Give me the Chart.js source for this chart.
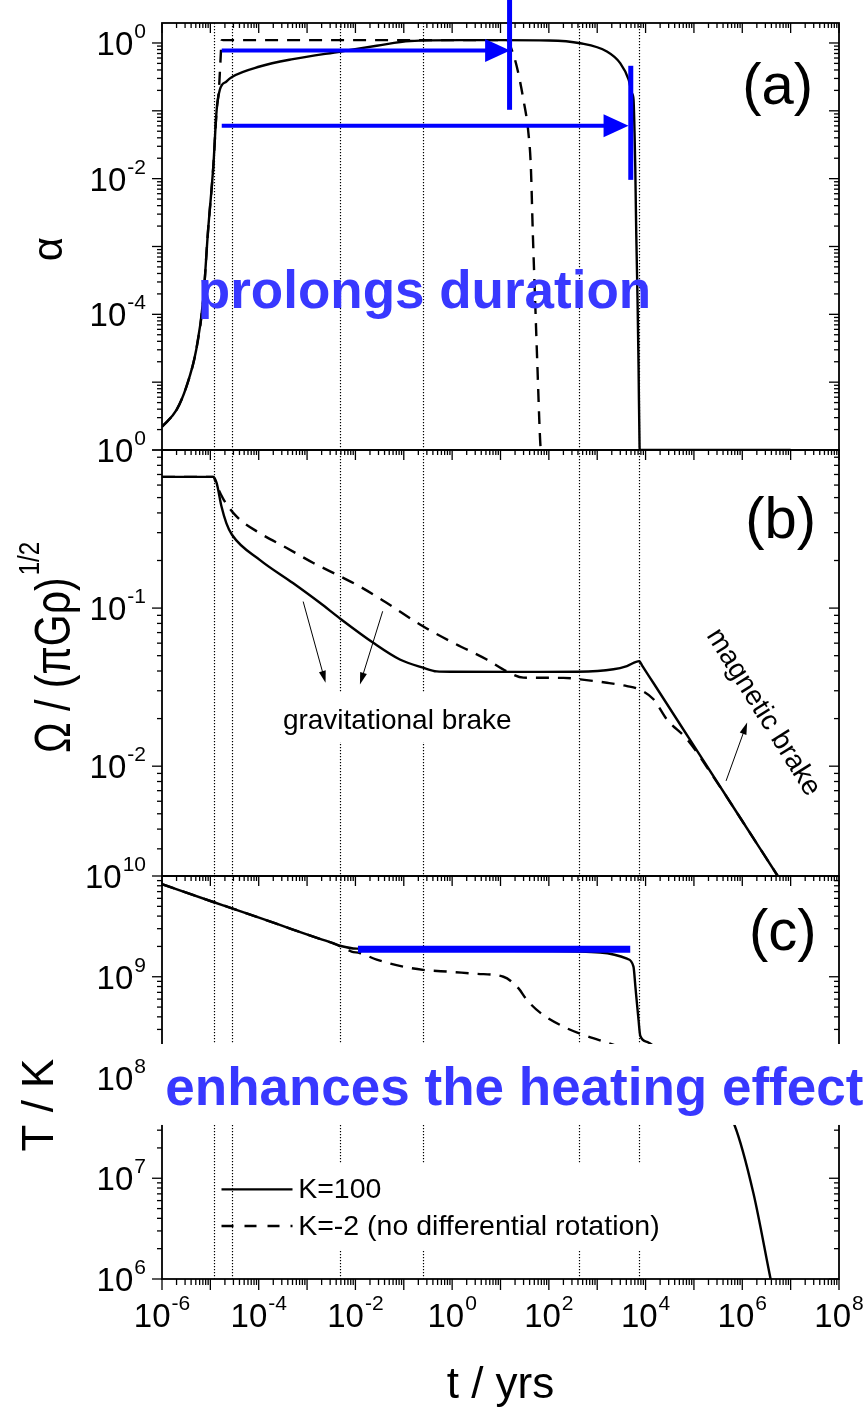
<!DOCTYPE html>
<html>
<head>
<meta charset="utf-8">
<script src="https://cdn.jsdelivr.net/npm/chart.js@4.4.0/dist/chart.umd.min.js"></script>
<style>
  html, body { margin: 0; padding: 0; background: #fff; }
  #wrap { position: relative; width: 867px; height: 1413px; }
  #wrap canvas { position: absolute; left: 0; top: 0; }
</style>
</head>
<body>
<div id="wrap">
  <canvas id="cA" width="867" height="1413"></canvas>
  <canvas id="cB" width="867" height="1413"></canvas>
  <canvas id="cC" width="867" height="1413"></canvas>
</div>
<script>
// ---- data (t in yrs) ----
const xTickExps = [-6, -4, -2, 0, 2, 4, 6, 8];
const markerTimes = [1.2e-5, 2.8e-5, 4.9e-3, 0.25, 425, 7200];   // dotted verticals

// (a) alpha
const alphaTickExps = [0, -2, -4];
const alphaK100 = [[1e-6,2.2e-6],[2.0e-6,3.9e-6],[3.2e-6,8.6e-6],[5.1e-6,3.0e-5],[7.1e-6,1.6e-4],
  [8.9e-6,1.6e-3],[1.15e-5,1.5e-2],[1.35e-5,0.103],[1.57e-5,0.204],[2.14e-5,0.27],[2.8e-5,0.316],
  [1.05e-4,0.45],[5.1e-4,0.578],[5.0e-3,0.75],[2.75e-2,0.91],[0.135,1.07],[1.45,1.1],[10,1.1],
  [100,1.09],[447,0.99],[1585,0.75],[2985,0.505],[4467,0.288],[5224,0.182],[5636,0.146],[5916,0.047],
  [6121,0.0149],[6412,1.6e-3],[6826,1.6e-4],[7161,1.7e-5],[7516,1.1e-6],[7600,1e-6],[1e7,1e-6]];
const alphaK2 = [[1e-6,2.2e-6],[2.0e-6,3.9e-6],[3.2e-6,8.6e-6],[5.1e-6,3.0e-5],[7.1e-6,1.6e-4],
  [8.9e-6,1.6e-3],[1.15e-5,1.5e-2],[1.35e-5,0.103],[1.5e-5,0.2],[1.62e-5,0.55],[1.72e-5,1.1],
  [1e-3,1.1],[13.5,1.1],[17.1,0.79],[21.7,0.45],[29.8,0.146],[37.8,0.047],[42.4,0.0151],
  [46.6,1.57e-3],[52,1.6e-4],[58,1.7e-5],[66,1.4e-6],[70,8e-7]];

// (b) Omega / (pi G rho)^1/2
const omegaTickExps = [0, -1, -2];
const omegaK100 = [[1e-6,0.676],[1.15e-5,0.676],[1.35e-5,0.617],[1.7e-5,0.439],[2.14e-5,0.345],
  [2.8e-5,0.291],[1.05e-4,0.202],[5.1e-4,0.144],[1.84e-3,0.108],[5.0e-3,0.0851],[2.34e-2,0.0603],
  [8.3e-2,0.0473],[0.25,0.042],[0.48,0.0398],[1,0.0396],[25,0.0395],[400,0.0396],[2170,0.041],
  [4120,0.043],[7400,0.0462],[8500,0.0432],[1.5e4,0.0331],[1e5,0.01343],[1e6,0.0045],
  [5.25e6,0.00205],[6.3e6,0.00188]];
const omegaK2 = [[1e-6,0.676],[1.15e-5,0.676],[1.35e-5,0.6],[1.82e-5,0.495],[3.47e-5,0.38],
  [1.05e-4,0.298],[3.8e-4,0.24],[1.35e-3,0.193],[5.0e-3,0.158],[1.23e-2,0.137],[4.4e-2,0.108],
  [0.25,0.0767],[1.06,0.0603],[5.2,0.0473],[13.5,0.0398],[29.8,0.0363],[200,0.0362],[447,0.0354],
  [1585,0.0337],[4120,0.0321],[7400,0.0306],[14600,0.0265],[2.75e4,0.0198],[7.2e4,0.0148],
  [2.57e5,0.0085],[1e6,0.0045],[5.25e6,0.00205],[6.3e6,0.00188]];

// (c) T / K
const tempTickExps = [10, 9, 8, 7, 6];
const tempK100 = [[1e-6,8.3e9],[1.15e-5,5.52e9],[2.8e-5,4.78e9],[1.05e-4,3.84e9],[5.1e-4,2.94e9],
  [1.84e-3,2.38e9],[3.47e-3,2.15e9],[5.0e-3,2.02e9],[1.06e-2,1.9e9],[100,1.8e9],[1148,1.74e9],
  [4120,1.51e9],[5620,1.26e9],[6170,7.9e8],[7160,3.7e8],[7760,2.6e8],[1.1e4,2.25e8],[1.6e4,2.0e8],
  [1e5,1.1e8],[3.2e5,6.0e7],[6.86e5,3.4e7],[1.7e6,7.1e6],[3.85e6,1e6],[4.5e6,7e5]];
const tempK2 = [[1e-6,8.3e9],[1.15e-5,5.52e9],[2.8e-5,4.78e9],[1.05e-4,3.84e9],[5.1e-4,2.94e9],
  [1.84e-3,2.38e9],[3.47e-3,2.15e9],[8.3e-3,1.78e9],[1.23e-2,1.72e9],[2.75e-2,1.48e9],[9.8e-2,1.26e9],
  [0.25,1.17e9],[0.91,1.12e9],[3.24,1.07e9],[11.5,1.0e9],[23.4,7.7e8],[35,5.9e8],[66,4.4e8],
  [200,3.2e8],[617,2.57e8],[2190,2.11e8],[5620,1.74e8],[8000,1.5e8]];

// annotations, in data units
const durationArrows = [[1.72e-5, 15.8, 0.774], [1.72e-5, 4446, 0.0601]];  // t0, tip, alpha
const durationEnds = [[15.4, 4.34, 0.1035], [4943, 0.461, 9.6e-3]];         // t, alpha top, alpha bottom
const heatingBar = [1.13e-2, 4820, 1.88e9];                                  // t0, t1, T
const heatingBand = [2.15e8, 3.38e7];                                        // T range hidden by the caption
const gravArrows = [[8.3e-4, 0.110, 2.41e-3, 0.0337], [3.66e-2, 0.0955, 1.24e-2, 0.0329]];
const magArrow = [4.62e5, 0.00807, 1.26e6, 0.0189];

// ---- drawing helpers ----
const W = 867, H = 1413;
const FONT = '"Liberation Sans", Arial, Helvetica, sans-serif';
const BLUE = '#0000ff', BLUE_TXT = '#3838ff';
function font(size, bold) { return (bold ? 'bold ' : '') + size + 'px ' + FONT; }
function P(chart, t, v) { return [chart.scales.x.getPixelForValue(t), chart.scales.y.getPixelForValue(v)]; }
function toXY(arr) { return arr.map(d => ({ x: d[0], y: d[1] })); }

function seg(ctx, x1, y1, x2, y2) { ctx.beginPath(); ctx.moveTo(x1, y1); ctx.lineTo(x2, y2); ctx.stroke(); }

function arrow(ctx, x1, y1, x2, y2, color, lw, len, half) {
  const ang = Math.atan2(y2 - y1, x2 - x1);
  const bx = x2 - Math.cos(ang) * len, by = y2 - Math.sin(ang) * len;
  ctx.strokeStyle = color; ctx.fillStyle = color; ctx.lineWidth = lw;
  seg(ctx, x1, y1, bx + Math.cos(ang) * 2, by + Math.sin(ang) * 2);
  ctx.beginPath();
  ctx.moveTo(x2, y2);
  ctx.lineTo(bx - Math.sin(ang) * half, by + Math.cos(ang) * half);
  ctx.lineTo(bx + Math.sin(ang) * half, by - Math.cos(ang) * half);
  ctx.closePath(); ctx.fill();
}

function pow10(ctx, exp, x, y, align) {
  const sup = String(exp);
  ctx.font = font(33); const wb = ctx.measureText('10').width;
  ctx.font = font(21); const ws = ctx.measureText(sup).width;
  const total = wb + 1 + ws;
  const x0 = align === 'right' ? x - total : align === 'center' ? x - total / 2 : x;
  ctx.fillStyle = '#000'; ctx.textAlign = 'left'; ctx.textBaseline = 'alphabetic';
  ctx.font = font(33); ctx.fillText('10', x0, y);
  ctx.font = font(21); ctx.fillText(sup, x0 + wb + 1, y - 17);
}

function vtitle(ctx, s, x, y, size) {   // rotated -90, centred on y, baseline at x
  ctx.save(); ctx.translate(x, y); ctx.rotate(-Math.PI / 2);
  ctx.font = font(size); ctx.fillStyle = '#000'; ctx.textAlign = 'center'; ctx.textBaseline = 'alphabetic';
  ctx.fillText(s, 0, 0); ctx.restore();
}

function drawFrame(chart, p) {
  const { ctx, chartArea: a, scales: { x, y } } = chart;
  ctx.save();
  ctx.strokeStyle = '#000';
  // dotted markers
  ctx.lineWidth = 1.2; ctx.setLineDash([1.2, 1.8]);
  markerTimes.forEach(t => { const px = Math.round(x.getPixelForValue(t)) + 0.5; seg(ctx, px, a.top, px, a.bottom); });
  ctx.setLineDash([]);
  ctx.lineWidth = 1.8;
  ctx.strokeRect(a.left, a.top, a.right - a.left, a.bottom - a.top);
  ctx.lineWidth = 1.3;
  for (let e = -6; e <= 7; e++) {
    for (let m = 1; m <= 9; m++) {
      const px = x.getPixelForValue(m * Math.pow(10, e));
      const len = m === 1 ? 10 : 5;
      seg(ctx, px, a.top, px, a.top + len);
      if (p.bottomAxis) seg(ctx, px, a.bottom, px, a.bottom + len + 1);
    }
  }
  if (p.bottomAxis) seg(ctx, a.right, a.bottom, a.right, a.bottom + 11);
  seg(ctx, a.right, a.top, a.right, a.top + 10);
  const e0 = Math.floor(Math.log10(p.yMin)), e1 = Math.ceil(Math.log10(p.yMax));
  for (let e = e0; e <= e1; e++) {
    for (let m = 1; m <= 9; m++) {
      const v = m * Math.pow(10, e);
      if (v < p.yMin * 0.999 || v > p.yMax * 1.001) continue;
      const py = y.getPixelForValue(v);
      const len = m === 1 ? 10 : 5;
      seg(ctx, a.left - len, py, a.left, py);
      seg(ctx, a.right - len, py, a.right, py);
    }
  }
  p.tickExps.forEach(e => pow10(ctx, e, a.left - 16, y.getPixelForValue(Math.pow(10, e)) + 12, 'right'));
  if (p.bottomAxis) xTickExps.forEach(e => pow10(ctx, e, x.getPixelForValue(Math.pow(10, e)), a.bottom + 48, 'center'));
  ctx.restore();
}

function panelLetter(ctx, s, x, y) {
  ctx.font = font(58); ctx.fillStyle = '#000'; ctx.textAlign = 'left'; ctx.textBaseline = 'alphabetic';
  ctx.fillText(s, x, y);
}

function extrasA(chart) {
  const { ctx } = chart;
  ctx.save();
  panelLetter(ctx, '(a)', ...P(chart, 1.0e6, 0.127));
  ctx.font = font(53, true); ctx.fillStyle = BLUE_TXT; ctx.textAlign = 'left';
  ctx.fillText('prolongs duration', ...P(chart, 5.5e-6, 1.24e-4));
  durationArrows.forEach(([t0, t1, v]) => {
    const [x0, y0] = P(chart, t0, v), [x1] = P(chart, t1, v);
    arrow(ctx, x0, y0, x1, y0, BLUE, 4, 25, 11.5);
  });
  ctx.lineWidth = 5; ctx.strokeStyle = BLUE;
  durationEnds.forEach(([t, v0, v1]) => {
    const [px, py0] = P(chart, t, v0), [, py1] = P(chart, t, v1);
    seg(ctx, px, py0, px, py1);
  });
  vtitle(ctx, 'α', 62, 249, 42);
  ctx.restore();
}

function extrasB(chart) {
  const { ctx } = chart;
  ctx.save();
  panelLetter(ctx, '(b)', ...P(chart, 1.15e6, 0.279));
  // gravitational brake
  const [gx, gy] = P(chart, 3.16e-4, 0.0171);
  ctx.font = font(28);
  const gw = ctx.measureText('gravitational brake').width;
  ctx.fillStyle = '#fff'; ctx.fillRect(gx - 5, gy - 37, gw + 10, 50);
  ctx.fillStyle = '#000'; ctx.textAlign = 'left'; ctx.textBaseline = 'alphabetic';
  ctx.fillText('gravitational brake', gx, gy);
  gravArrows.forEach(([t0, v0, t1, v1]) => {
    const [x0, y0] = P(chart, t0, v0), [x1, y1] = P(chart, t1, v1);
    arrow(ctx, x0, y0, x1, y1, '#000', 1, 12, 3.5);
  });
  // magnetic brake
  const [mx, my] = P(chart, 2.7e6, 0.0219);
  ctx.save(); ctx.translate(mx, my); ctx.rotate(58 * Math.PI / 180);
  ctx.font = font(28); ctx.fillStyle = '#000'; ctx.textAlign = 'center'; ctx.textBaseline = 'middle';
  ctx.fillText('magnetic brake', 0, 0); ctx.restore();
  { const [x0, y0] = P(chart, magArrow[0], magArrow[1]), [x1, y1] = P(chart, magArrow[2], magArrow[3]);
    arrow(ctx, x0, y0, x1, y1, '#000', 1, 12, 3.5); }
  // axis title with superscript (glyphs a little taller, as in the figure)
  ctx.save(); ctx.translate(70, 753); ctx.rotate(-Math.PI / 2); ctx.scale(1, 1.2);
  ctx.fillStyle = '#000'; ctx.textAlign = 'left'; ctx.textBaseline = 'alphabetic';
  ctx.font = font(41); const tw = ctx.measureText('Ω / (πGρ)').width;
  ctx.fillText('Ω / (πGρ)', 0, 0);
  ctx.font = font(24); ctx.fillText('1/2', tw + 2, -26);
  ctx.restore();
  ctx.restore();
}

function extrasC(chart) {
  const { ctx, chartArea: a } = chart;
  ctx.save();
  panelLetter(ctx, '(c)', ...P(chart, 1.38e6, 1.84e9));
  // heating bar
  { const [x0, py] = P(chart, heatingBar[0], heatingBar[2]), [x1] = P(chart, heatingBar[1], heatingBar[2]);
    ctx.strokeStyle = BLUE; ctx.lineWidth = 7; seg(ctx, x0, py, x1, py); }
  // caption band
  const [, by0] = P(chart, 1, heatingBand[0]), [, by1] = P(chart, 1, heatingBand[1]);
  ctx.fillStyle = '#fff'; ctx.fillRect(a.left - 12, by0, W - a.left + 12, by1 - by0);
  ctx.font = font(53, true); ctx.fillStyle = BLUE_TXT; ctx.textAlign = 'left'; ctx.textBaseline = 'alphabetic';
  ctx.fillText('enhances the heating effect', ...P(chart, 1.17e-6, 5.33e7));
  // legend
  const [lx0, ly1] = P(chart, 1.7e-5, 7.76e6), [lx1] = P(chart, 5.0e-4, 7.76e6);
  const [, ly2] = P(chart, 1, 3.36e6);
  const [tx] = P(chart, 6.55e-4, 1);
  ctx.font = font(28.5);
  const lw = ctx.measureText('K=-2 (no differential rotation)').width;
  ctx.fillStyle = '#fff'; ctx.fillRect(tx - 4, ly1 - 26, lw + 8, ly2 - ly1 + 50);
  ctx.strokeStyle = '#000'; ctx.lineWidth = 2.4;
  seg(ctx, lx0, ly1, lx1, ly1);
  ctx.setLineDash([12, 11]); seg(ctx, lx0, ly2, lx1, ly2); ctx.setLineDash([]);
  ctx.fillStyle = '#000';
  ctx.fillText('K=100', tx, ly1 + 9);
  ctx.fillText('K=-2 (no differential rotation)', tx, ly2 + 9);
  // titles
  vtitle(ctx, 'T / K', 53, 1105, 44);
  ctx.font = font(44); ctx.textAlign = 'center';
  ctx.fillText('t / yrs', (a.left + a.right) / 2, 1398);
  ctx.restore();
}

const panels = [
  { id: 'cA', top: 23, bottom: 450, yMin: 1e-6, yMax: 1.97, tickExps: alphaTickExps,
    solid: alphaK100, dashed: alphaK2, extra: extrasA },
  { id: 'cB', top: 450, bottom: 876, yMin: 0.00202, yMax: 1, tickExps: omegaTickExps,
    solid: omegaK100, dashed: omegaK2, extra: extrasB },
  { id: 'cC', top: 876, bottom: 1279, yMin: 1e6, yMax: 1e10, tickExps: tempTickExps,
    solid: tempK100, dashed: tempK2, extra: extrasC, bottomAxis: true },
];

panels.forEach(p => {
  new Chart(document.getElementById(p.id), {
    type: 'line',
    data: { datasets: [
      { data: toXY(p.solid), borderColor: '#000', borderWidth: 2.4, pointRadius: 0, fill: false,
        cubicInterpolationMode: 'monotone' },
      { data: toXY(p.dashed), borderColor: '#000', borderWidth: 2.4, borderDash: [13, 9],
        pointRadius: 0, fill: false, cubicInterpolationMode: 'monotone' },
    ] },
    options: {
      responsive: false, animation: false, events: [], devicePixelRatio: 1,
      layout: { padding: { left: 162, right: 28, top: p.top, bottom: H - p.bottom } },
      plugins: { legend: { display: false }, tooltip: { enabled: false } },
      scales: {
        x: { type: 'logarithmic', min: 1e-6, max: 1e8, display: false },
        y: { type: 'logarithmic', min: p.yMin, max: p.yMax, display: false },
      },
    },
    plugins: [{
      id: 'panel' + p.id,
      beforeDatasetsDraw: chart => drawFrame(chart, p),
      afterDatasetsDraw: chart => p.extra(chart),
    }],
  });
});
</script>
</body>
</html>
